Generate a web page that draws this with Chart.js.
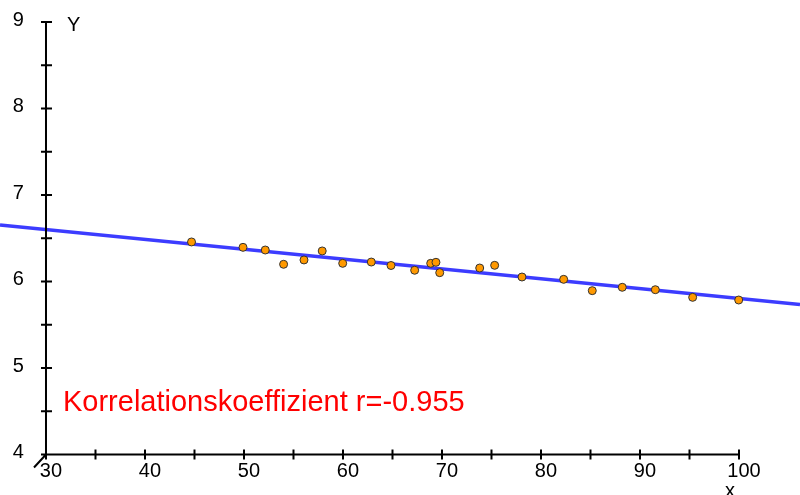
<!DOCTYPE html>
<html>
<head>
<meta charset="utf-8">
<script src="https://cdn.jsdelivr.net/npm/chart.js@4"></script>
<style>
html,body{margin:0;padding:0;background:#fff;}
#wrap{width:800px;height:495px;}
</style>
</head>
<body>
<div id="wrap"><canvas id="c" width="800" height="495"></canvas></div>
<script>
// data points
const xValues = [44.7, 49.9, 52.15, 54.0, 56.06, 57.9, 59.97, 62.86, 64.85, 67.24, 68.86, 69.39, 69.77, 73.81, 75.32, 78.08, 82.29, 85.18, 88.21, 91.55, 95.32, 99.97];
const yValues = [6.457, 6.395, 6.364, 6.199, 6.249, 6.353, 6.210, 6.225, 6.185, 6.130, 6.210, 6.222, 6.102, 6.156, 6.187, 6.052, 6.025, 5.894, 5.933, 5.905, 5.817, 5.786];
// regression line endpoints
const lineX = [25.354, 106.162];
const lineY = [6.653, 5.735];
// axis ticks
const xMajor = [30, 40, 50, 60, 70, 80, 90, 100];
const xMinor = [35, 45, 55, 65, 75, 85, 95];
const yMajor = [4, 5, 6, 7, 8, 9];
const yMinor = [4.5, 5.5, 6.5, 7.5, 8.5];
const xRange = [25.354, 106.162];
const yRange = [3.5318, 9.2543];
const xAxisAt = 4, yAxisAt = 30;
const annotation = "Korrelationskoeffizient r=-0.955";

const axesPlugin = {
  id: 'axes',
  afterDatasetsDraw(chart) {
    const ctx = chart.ctx, xs = chart.scales.x, ys = chart.scales.y;
    const x0 = xs.getPixelForValue(yAxisAt), y0 = ys.getPixelForValue(xAxisAt);
    const xEnd = xs.getPixelForValue(xMajor[xMajor.length - 1]);
    const yTop = ys.getPixelForValue(yMajor[yMajor.length - 1]);
    ctx.save();
    ctx.strokeStyle = '#000';
    ctx.lineWidth = 2;
    ctx.beginPath();
    ctx.moveTo(x0 - 5, y0); ctx.lineTo(xEnd, y0);
    ctx.moveTo(x0, yTop); ctx.lineTo(x0, y0);
    // ticks
    [...xMajor, ...xMinor].forEach(v => {
      const p = xs.getPixelForValue(v);
      ctx.moveTo(p, y0 - 5); ctx.lineTo(p, y0 + 5);
    });
    [...yMajor, ...yMinor].forEach(v => {
      const p = ys.getPixelForValue(v);
      ctx.moveTo(x0 - 5, p); ctx.lineTo(x0 + 6, p);
    });
    // origin mark
    ctx.moveTo(x0, y0); ctx.lineTo(x0 - 12, y0 + 13);
    ctx.stroke();
    // labels
    ctx.fillStyle = '#000';
    ctx.font = '20px "Liberation Sans", Arial, sans-serif';
    ctx.textAlign = 'left'; ctx.textBaseline = 'top';
    xMajor.forEach(v => {
      const p = xs.getPixelForValue(v);
      const w = ctx.measureText(String(v)).width;
      ctx.fillText(String(v), p - w / 2 + 5, y0 + 7);
    });
    ctx.textAlign = 'right'; ctx.textBaseline = 'middle';
    yMajor.forEach(v => {
      const p = ys.getPixelForValue(v);
      ctx.fillText(String(v), x0 - 22, p - 2);
    });
    ctx.textAlign = 'left'; ctx.textBaseline = 'top';
    ctx.fillText('Y', x0 + 21, yTop - 7);
    ctx.fillText('x', xEnd - 14, y0 + 27);
    // annotation
    ctx.fillStyle = '#ff0000';
    ctx.font = '29px "Liberation Sans", Arial, sans-serif';
    ctx.textBaseline = 'alphabetic';
    ctx.fillText(annotation, x0 + 17, ys.getPixelForValue(4.505));
    ctx.restore();
  }
};

new Chart(document.getElementById('c'), {
  type: 'scatter',
  data: {
    datasets: [
      {
        type: 'line',
        data: lineX.map((x, i) => ({x, y: lineY[i]})),
        borderColor: 'rgb(60,60,255)',
        borderWidth: 3.5,
        pointRadius: 0,
        fill: false,
        order: 2
      },
      {
        data: xValues.map((x, i) => ({x, y: yValues[i]})),
        backgroundColor: 'rgb(255,153,0)',
        borderColor: '#333',
        borderWidth: 1,
        pointRadius: 4,
        order: 1
      }
    ]
  },
  plugins: [axesPlugin],
  options: {
    responsive: false,
    animation: false,
    layout: {padding: 0, autoPadding: false},
    plugins: {legend: {display: false}, tooltip: {enabled: false}},
    scales: {
      x: {type: 'linear', min: xRange[0], max: xRange[1], display: false},
      y: {type: 'linear', min: yRange[0], max: yRange[1], display: false}
    }
  }
});
</script>
</body>
</html>
